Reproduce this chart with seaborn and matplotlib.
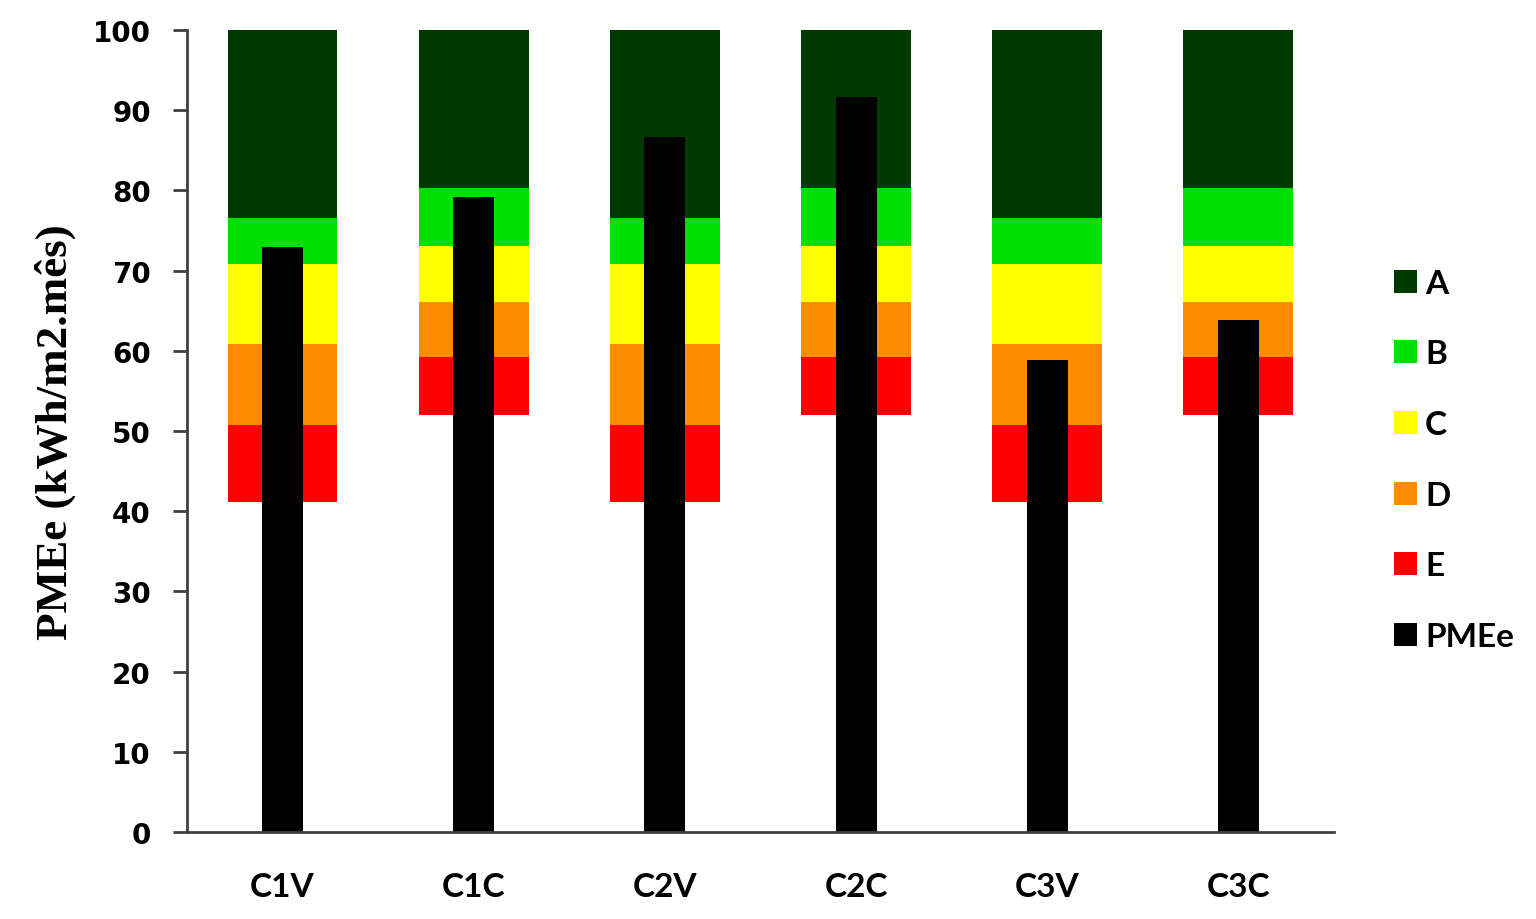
import matplotlib
matplotlib.use("Agg")
import matplotlib.pyplot as plt
from matplotlib.patches import Patch
import seaborn as sns
import pandas as pd

categories = ["C1V", "C1C", "C2V", "C2C", "C3V", "C3C"]
# lower limits of each class band (upper limit of A band is 100)
e_low = [41.1, 52.0, 41.1, 52.0, 41.1, 52.0]
d_low = [50.8, 59.2, 50.8, 59.2, 50.8, 59.2]
c_low = [60.8, 66.1, 60.8, 66.1, 60.8, 66.1]
b_low = [70.8, 73.1, 70.8, 73.1, 70.8, 73.1]
a_low = [76.6, 80.3, 76.6, 80.3, 76.6, 80.3]
a_top = [100, 100, 100, 100, 100, 100]
pmee = [72.9, 79.2, 86.7, 91.7, 58.8, 63.8]

class_labels = ["A", "B", "C", "D", "E"]
class_colors = ["#003a00", "#00e000", "#ffff00", "#ff8c00", "#ff0000"]

sns.set_theme(style="white")
plt.rcParams["font.family"] = ["DejaVu Sans"]
plt.rcParams["text.color"] = "black"
plt.rcParams["axes.labelcolor"] = "black"
plt.rcParams["xtick.color"] = "black"
plt.rcParams["ytick.color"] = "black"

fig = plt.figure(figsize=(15.36, 9.2), dpi=100)
ax = fig.add_axes([0.1217, 0.0946, 0.7468, 0.8717])

# draw upper limits from top down; each later layer covers the earlier one below it
layers = [(a_top, class_colors[0]), (a_low, class_colors[1]), (b_low, class_colors[2]),
          (c_low, class_colors[3]), (d_low, class_colors[4]), (e_low, "white")]
for vals, col in layers:
    df = pd.DataFrame({"cat": categories, "val": vals})
    sns.barplot(data=df, x="cat", y="val", color=col, width=0.575, ax=ax,
                saturation=1, linewidth=0, errorbar=None, order=categories)

dfp = pd.DataFrame({"cat": categories, "val": pmee})
sns.barplot(data=dfp, x="cat", y="val", color="black", width=0.214, ax=ax,
            saturation=1, linewidth=0, errorbar=None, order=categories)

ax.set_ylim(0, 100)
ax.set_xlim(-0.5, 5.5)
ax.set_yticks(range(0, 101, 10))
ax.set_xlabel("")
ax.set_ylabel("PMEe (kWh/m2.mês)", fontsize=32.5, fontweight="bold",
              family=["Liberation Serif"], labelpad=12, color="black")
for s in ["top", "right"]:
    ax.spines[s].set_visible(False)
for s in ["left", "bottom"]:
    ax.spines[s].set_color("#404040")
    ax.spines[s].set_linewidth(2)
ax.tick_params(axis="y", which="major", direction="out", length=10, width=2,
               color="#404040", labelcolor="black", left=True, labelsize=20, pad=16)
ax.tick_params(axis="x", length=0, pad=29, labelcolor="black")
for lab in ax.get_yticklabels():
    lab.set_fontweight("bold")
for lab in ax.get_xticklabels():
    lab.set_fontweight("bold")
    lab.set_fontsize(24)
    lab.set_family(["Lato", "DejaVu Sans"])

handles = [Patch(facecolor=c, edgecolor="none") for c in class_colors]
handles.append(Patch(facecolor="black", edgecolor="none"))
labels = class_labels + ["PMEe"]
fig.legend(handles, labels, loc="center left", bbox_to_anchor=(0.899, 0.499),
           frameon=False, prop={"family": ["Lato", "DejaVu Sans"], "weight": "bold", "size": 24},
           handlelength=0.68, handleheight=0.68, handletextpad=0.25, labelspacing=1.25,
           borderaxespad=0)

fig.savefig("out.png", dpi=100)
